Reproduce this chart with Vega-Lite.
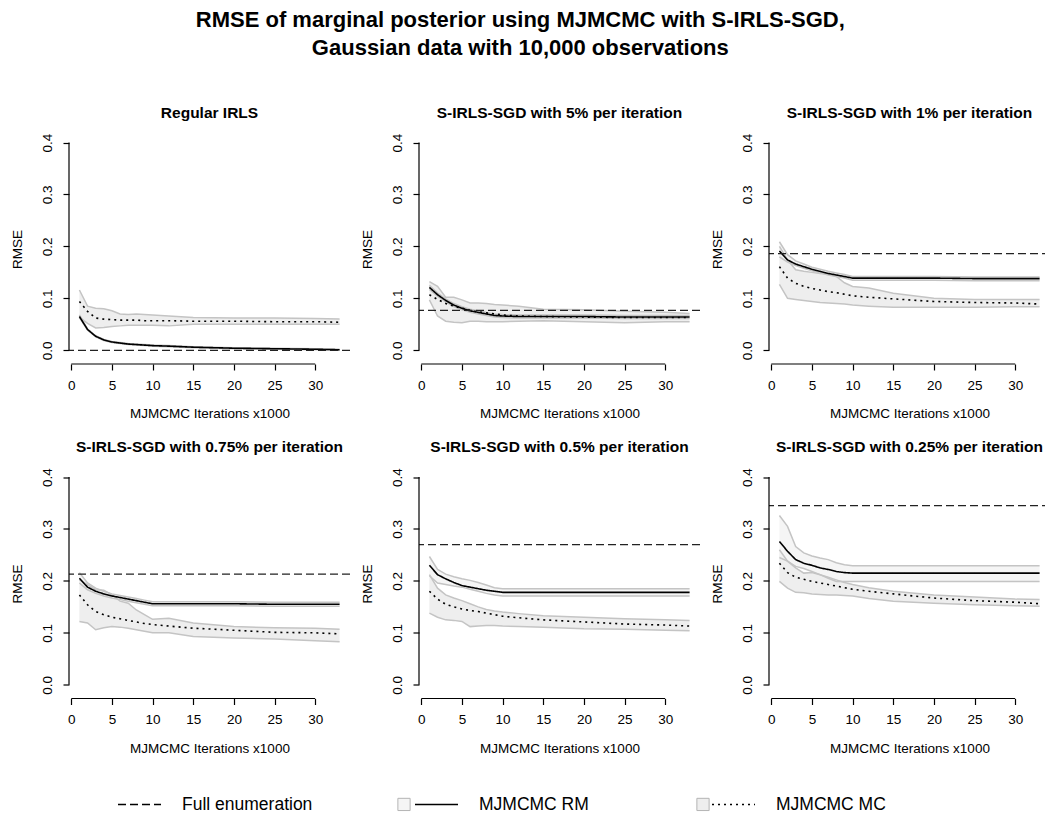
{
"$schema": "https://vega.github.io/schema/vega-lite/v6.json",
"background": "white",
"padding": {"left": 10, "top": 8, "right": 0, "bottom": 0},
"title": {"text": ["RMSE of marginal posterior using MJMCMC with S-IRLS-SGD,", "Gaussian data with 10,000 observations"], "fontSize": 22, "lineHeight": 28, "offset": 46, "anchor": "middle", "dx": -10},
"datasets": {
"fe": [{"p":"p1","full":0.0},{"p":"p2","full":0.077},{"p":"p3","full":0.186},{"p":"p4","full":0.213},{"p":"p5","full":0.270},{"p":"p6","full":0.345}],
"d": [
{"p":"p1","x":1,"rm":0.065,"rl":0.063,"rh":0.068,"mc":0.094,"ml":0.064,"mh":0.116},
{"p":"p1","x":2,"rm":0.040,"rl":0.039,"rh":0.041,"mc":0.075,"ml":0.052,"mh":0.085},
{"p":"p1","x":3,"rm":0.027,"rl":0.026,"rh":0.028,"mc":0.062,"ml":0.043,"mh":0.081},
{"p":"p1","x":4,"rm":0.020,"rl":0.019,"rh":0.021,"mc":0.060,"ml":0.044,"mh":0.080},
{"p":"p1","x":5,"rm":0.016,"rl":0.015,"rh":0.017,"mc":0.059,"ml":0.046,"mh":0.076},
{"p":"p1","x":6,"rm":0.014,"rl":0.013,"rh":0.015,"mc":0.058,"ml":0.047,"mh":0.070},
{"p":"p1","x":7,"rm":0.012,"rl":0.011,"rh":0.013,"mc":0.058,"ml":0.048,"mh":0.069},
{"p":"p1","x":8,"rm":0.011,"rl":0.010,"rh":0.012,"mc":0.058,"ml":0.048,"mh":0.070},
{"p":"p1","x":9,"rm":0.010,"rl":0.009,"rh":0.011,"mc":0.057,"ml":0.048,"mh":0.069},
{"p":"p1","x":10,"rm":0.009,"rl":0.008,"rh":0.010,"mc":0.057,"ml":0.048,"mh":0.068},
{"p":"p1","x":12,"rm":0.008,"rl":0.007,"rh":0.009,"mc":0.057,"ml":0.047,"mh":0.066},
{"p":"p1","x":15,"rm":0.006,"rl":0.005,"rh":0.007,"mc":0.056,"ml":0.050,"mh":0.063},
{"p":"p1","x":20,"rm":0.004,"rl":0.003,"rh":0.005,"mc":0.056,"ml":0.050,"mh":0.062},
{"p":"p1","x":25,"rm":0.003,"rl":0.002,"rh":0.004,"mc":0.055,"ml":0.050,"mh":0.062},
{"p":"p1","x":30,"rm":0.002,"rl":0.001,"rh":0.003,"mc":0.055,"ml":0.050,"mh":0.061},
{"p":"p1","x":33,"rm":0.001,"rl":0.000,"rh":0.002,"mc":0.054,"ml":0.050,"mh":0.060},
{"p":"p2","x":1,"rm":0.121,"rl":0.117,"rh":0.125,"mc":0.107,"ml":0.097,"mh":0.132},
{"p":"p2","x":2,"rm":0.107,"rl":0.104,"rh":0.110,"mc":0.098,"ml":0.066,"mh":0.123},
{"p":"p2","x":3,"rm":0.096,"rl":0.093,"rh":0.099,"mc":0.090,"ml":0.056,"mh":0.102},
{"p":"p2","x":4,"rm":0.087,"rl":0.084,"rh":0.090,"mc":0.085,"ml":0.054,"mh":0.102},
{"p":"p2","x":5,"rm":0.081,"rl":0.078,"rh":0.084,"mc":0.081,"ml":0.053,"mh":0.097},
{"p":"p2","x":6,"rm":0.076,"rl":0.073,"rh":0.079,"mc":0.077,"ml":0.056,"mh":0.091},
{"p":"p2","x":7,"rm":0.073,"rl":0.070,"rh":0.076,"mc":0.074,"ml":0.056,"mh":0.091},
{"p":"p2","x":8,"rm":0.070,"rl":0.067,"rh":0.073,"mc":0.072,"ml":0.055,"mh":0.090},
{"p":"p2","x":9,"rm":0.067,"rl":0.064,"rh":0.070,"mc":0.070,"ml":0.055,"mh":0.088},
{"p":"p2","x":10,"rm":0.066,"rl":0.063,"rh":0.069,"mc":0.068,"ml":0.055,"mh":0.087},
{"p":"p2","x":12,"rm":0.065,"rl":0.062,"rh":0.068,"mc":0.066,"ml":0.056,"mh":0.085},
{"p":"p2","x":15,"rm":0.065,"rl":0.062,"rh":0.068,"mc":0.065,"ml":0.057,"mh":0.079},
{"p":"p2","x":20,"rm":0.065,"rl":0.062,"rh":0.068,"mc":0.064,"ml":0.055,"mh":0.078},
{"p":"p2","x":25,"rm":0.064,"rl":0.061,"rh":0.067,"mc":0.063,"ml":0.053,"mh":0.075},
{"p":"p2","x":30,"rm":0.064,"rl":0.061,"rh":0.067,"mc":0.063,"ml":0.055,"mh":0.073},
{"p":"p2","x":33,"rm":0.064,"rl":0.061,"rh":0.067,"mc":0.063,"ml":0.055,"mh":0.071},
{"p":"p3","x":1,"rm":0.191,"rl":0.180,"rh":0.209,"mc":0.161,"ml":0.127,"mh":0.200},
{"p":"p3","x":2,"rm":0.174,"rl":0.170,"rh":0.184,"mc":0.139,"ml":0.100,"mh":0.174},
{"p":"p3","x":3,"rm":0.166,"rl":0.163,"rh":0.172,"mc":0.129,"ml":0.098,"mh":0.155},
{"p":"p3","x":4,"rm":0.161,"rl":0.158,"rh":0.166,"mc":0.123,"ml":0.096,"mh":0.152},
{"p":"p3","x":5,"rm":0.156,"rl":0.153,"rh":0.160,"mc":0.119,"ml":0.094,"mh":0.150},
{"p":"p3","x":6,"rm":0.152,"rl":0.149,"rh":0.156,"mc":0.116,"ml":0.092,"mh":0.148},
{"p":"p3","x":7,"rm":0.148,"rl":0.145,"rh":0.152,"mc":0.113,"ml":0.091,"mh":0.147},
{"p":"p3","x":8,"rm":0.145,"rl":0.142,"rh":0.149,"mc":0.111,"ml":0.090,"mh":0.142},
{"p":"p3","x":9,"rm":0.142,"rl":0.139,"rh":0.146,"mc":0.108,"ml":0.089,"mh":0.130},
{"p":"p3","x":10,"rm":0.139,"rl":0.135,"rh":0.142,"mc":0.105,"ml":0.087,"mh":0.123},
{"p":"p3","x":12,"rm":0.139,"rl":0.135,"rh":0.142,"mc":0.102,"ml":0.085,"mh":0.120},
{"p":"p3","x":15,"rm":0.139,"rl":0.135,"rh":0.142,"mc":0.099,"ml":0.083,"mh":0.110},
{"p":"p3","x":20,"rm":0.139,"rl":0.135,"rh":0.142,"mc":0.094,"ml":0.083,"mh":0.100},
{"p":"p3","x":25,"rm":0.138,"rl":0.134,"rh":0.141,"mc":0.092,"ml":0.083,"mh":0.098},
{"p":"p3","x":30,"rm":0.138,"rl":0.134,"rh":0.141,"mc":0.091,"ml":0.084,"mh":0.098},
{"p":"p3","x":33,"rm":0.138,"rl":0.134,"rh":0.141,"mc":0.089,"ml":0.084,"mh":0.098},
{"p":"p4","x":1,"rm":0.205,"rl":0.196,"rh":0.216,"mc":0.173,"ml":0.122,"mh":0.202},
{"p":"p4","x":2,"rm":0.188,"rl":0.183,"rh":0.196,"mc":0.154,"ml":0.119,"mh":0.193},
{"p":"p4","x":3,"rm":0.180,"rl":0.176,"rh":0.186,"mc":0.141,"ml":0.106,"mh":0.183},
{"p":"p4","x":4,"rm":0.175,"rl":0.171,"rh":0.180,"mc":0.135,"ml":0.110,"mh":0.182},
{"p":"p4","x":5,"rm":0.171,"rl":0.167,"rh":0.175,"mc":0.130,"ml":0.112,"mh":0.173},
{"p":"p4","x":6,"rm":0.168,"rl":0.164,"rh":0.172,"mc":0.127,"ml":0.111,"mh":0.161},
{"p":"p4","x":7,"rm":0.165,"rl":0.161,"rh":0.169,"mc":0.124,"ml":0.109,"mh":0.157},
{"p":"p4","x":8,"rm":0.162,"rl":0.158,"rh":0.166,"mc":0.121,"ml":0.106,"mh":0.144},
{"p":"p4","x":9,"rm":0.159,"rl":0.155,"rh":0.163,"mc":0.118,"ml":0.103,"mh":0.135},
{"p":"p4","x":10,"rm":0.156,"rl":0.152,"rh":0.160,"mc":0.116,"ml":0.100,"mh":0.126},
{"p":"p4","x":12,"rm":0.156,"rl":0.152,"rh":0.160,"mc":0.113,"ml":0.100,"mh":0.128},
{"p":"p4","x":15,"rm":0.156,"rl":0.152,"rh":0.160,"mc":0.109,"ml":0.093,"mh":0.119},
{"p":"p4","x":20,"rm":0.156,"rl":0.152,"rh":0.160,"mc":0.105,"ml":0.090,"mh":0.112},
{"p":"p4","x":25,"rm":0.155,"rl":0.151,"rh":0.159,"mc":0.101,"ml":0.088,"mh":0.110},
{"p":"p4","x":30,"rm":0.155,"rl":0.151,"rh":0.159,"mc":0.100,"ml":0.085,"mh":0.109},
{"p":"p4","x":33,"rm":0.155,"rl":0.151,"rh":0.159,"mc":0.098,"ml":0.083,"mh":0.107},
{"p":"p5","x":1,"rm":0.230,"rl":0.210,"rh":0.247,"mc":0.180,"ml":0.138,"mh":0.212},
{"p":"p5","x":2,"rm":0.212,"rl":0.196,"rh":0.222,"mc":0.165,"ml":0.130,"mh":0.186},
{"p":"p5","x":3,"rm":0.204,"rl":0.193,"rh":0.213,"mc":0.155,"ml":0.125,"mh":0.173},
{"p":"p5","x":4,"rm":0.197,"rl":0.190,"rh":0.208,"mc":0.150,"ml":0.124,"mh":0.167},
{"p":"p5","x":5,"rm":0.191,"rl":0.188,"rh":0.204,"mc":0.146,"ml":0.122,"mh":0.162},
{"p":"p5","x":6,"rm":0.188,"rl":0.184,"rh":0.201,"mc":0.143,"ml":0.112,"mh":0.156},
{"p":"p5","x":7,"rm":0.185,"rl":0.180,"rh":0.197,"mc":0.141,"ml":0.113,"mh":0.150},
{"p":"p5","x":8,"rm":0.182,"rl":0.176,"rh":0.192,"mc":0.138,"ml":0.114,"mh":0.145},
{"p":"p5","x":9,"rm":0.180,"rl":0.173,"rh":0.187,"mc":0.135,"ml":0.114,"mh":0.142},
{"p":"p5","x":10,"rm":0.178,"rl":0.171,"rh":0.185,"mc":0.132,"ml":0.113,"mh":0.140},
{"p":"p5","x":12,"rm":0.178,"rl":0.171,"rh":0.185,"mc":0.129,"ml":0.112,"mh":0.137},
{"p":"p5","x":15,"rm":0.178,"rl":0.171,"rh":0.185,"mc":0.125,"ml":0.111,"mh":0.133},
{"p":"p5","x":20,"rm":0.178,"rl":0.171,"rh":0.185,"mc":0.121,"ml":0.108,"mh":0.130},
{"p":"p5","x":25,"rm":0.178,"rl":0.171,"rh":0.185,"mc":0.117,"ml":0.107,"mh":0.127},
{"p":"p5","x":30,"rm":0.178,"rl":0.171,"rh":0.185,"mc":0.115,"ml":0.105,"mh":0.125},
{"p":"p5","x":33,"rm":0.178,"rl":0.171,"rh":0.185,"mc":0.113,"ml":0.104,"mh":0.124},
{"p":"p6","x":1,"rm":0.276,"rl":0.245,"rh":0.326,"mc":0.234,"ml":0.199,"mh":0.260},
{"p":"p6","x":2,"rm":0.257,"rl":0.238,"rh":0.305,"mc":0.216,"ml":0.186,"mh":0.238},
{"p":"p6","x":3,"rm":0.241,"rl":0.228,"rh":0.266,"mc":0.207,"ml":0.178,"mh":0.225},
{"p":"p6","x":4,"rm":0.234,"rl":0.224,"rh":0.254,"mc":0.203,"ml":0.177,"mh":0.215},
{"p":"p6","x":5,"rm":0.230,"rl":0.218,"rh":0.248,"mc":0.199,"ml":0.175,"mh":0.216},
{"p":"p6","x":6,"rm":0.225,"rl":0.212,"rh":0.244,"mc":0.196,"ml":0.174,"mh":0.212},
{"p":"p6","x":7,"rm":0.222,"rl":0.205,"rh":0.241,"mc":0.193,"ml":0.173,"mh":0.207},
{"p":"p6","x":8,"rm":0.218,"rl":0.199,"rh":0.235,"mc":0.190,"ml":0.173,"mh":0.202},
{"p":"p6","x":9,"rm":0.216,"rl":0.199,"rh":0.231,"mc":0.187,"ml":0.172,"mh":0.197},
{"p":"p6","x":10,"rm":0.215,"rl":0.199,"rh":0.229,"mc":0.184,"ml":0.171,"mh":0.193},
{"p":"p6","x":12,"rm":0.215,"rl":0.199,"rh":0.229,"mc":0.180,"ml":0.166,"mh":0.187},
{"p":"p6","x":15,"rm":0.215,"rl":0.199,"rh":0.229,"mc":0.175,"ml":0.161,"mh":0.180},
{"p":"p6","x":20,"rm":0.215,"rl":0.199,"rh":0.229,"mc":0.167,"ml":0.157,"mh":0.173},
{"p":"p6","x":25,"rm":0.215,"rl":0.199,"rh":0.229,"mc":0.162,"ml":0.154,"mh":0.169},
{"p":"p6","x":30,"rm":0.215,"rl":0.199,"rh":0.229,"mc":0.159,"ml":0.152,"mh":0.165},
{"p":"p6","x":33,"rm":0.215,"rl":0.199,"rh":0.229,"mc":0.156,"ml":0.151,"mh":0.164}
]
},
"columns": 3,
"spacing": {"row": 104.5, "column": 69},
"bounds": "flush",
"resolve": {"scale": {"strokeDash": "shared", "fill": "shared"}, "legend": {"strokeDash": "shared", "fill": "shared"}},
"concat": [
{"width": 281, "height": 230, "title": {"text": "Regular IRLS"}, "layer": [
{"data": {"name": "d"}, "transform": [{"filter": "datum.p === 'p1'"}], "mark": {"type": "area"}, "encoding": {"x": {"field": "x", "type": "quantitative", "title": "MJMCMC Iterations x1000", "scale": {"domain": [-0.28, 34.28], "nice": false, "zero": false}, "axis": {"values": [0,5,10,15,20,25,30]}}, "y": {"field": "ml", "type": "quantitative", "title": "RMSE", "scale": {"domain": [-0.0264, 0.4164], "nice": false, "zero": false}, "axis": {"values": [0,0.1,0.2,0.3,0.4], "format": ".1f"}}, "y2": {"field": "mh"}, "fill": {"datum": "MJMCMC MC", "type": "nominal", "scale": {"domain": ["MJMCMC RM", "MJMCMC MC"], "range": ["#f2f2f2", "#e8e8e8"]}, "legend": {"title": null, "orient": "none", "legendX": 328, "legendY": 663, "symbolType": "square", "symbolSize": 150, "symbolStrokeColor": "#b4b4b4", "symbolStrokeWidth": 1, "symbolFillColor": "#e4e4e4", "labelExpr": "''", "labelFontSize": 1, "labelOffset": 0, "columnPadding": 281, "gridAlign": "all"}}}},
{"data": {"name": "d"}, "transform": [{"filter": "datum.p === 'p1'"}], "mark": {"type": "area"}, "encoding": {"x": {"field": "x", "type": "quantitative", "title": "MJMCMC Iterations x1000"}, "y": {"field": "rl", "type": "quantitative", "title": "RMSE"}, "y2": {"field": "rh"}, "fill": {"datum": "MJMCMC RM", "type": "nominal"}}},
{"data": {"name": "d"}, "transform": [{"filter": "datum.p === 'p1'"}, {"fold": ["ml", "mh", "rl", "rh"], "as": ["k", "v"]}], "mark": {"type": "line", "stroke": "#c4c4c4", "strokeWidth": 1.5}, "encoding": {"x": {"field": "x", "type": "quantitative", "title": "MJMCMC Iterations x1000"}, "y": {"field": "v", "type": "quantitative", "title": "RMSE"}, "detail": {"field": "k", "type": "nominal"}}},
{"data": {"name": "d"}, "transform": [{"filter": "datum.p === 'p1'"}], "mark": {"type": "line", "stroke": "#000", "strokeWidth": 1.6}, "encoding": {"x": {"field": "x", "type": "quantitative", "title": "MJMCMC Iterations x1000"}, "y": {"field": "rm", "type": "quantitative", "title": "RMSE"}, "strokeDash": {"datum": "MJMCMC RM", "type": "nominal", "scale": {"domain": ["Full enumeration", "MJMCMC RM", "MJMCMC MC"], "range": [[8,4],[1,0],[2,4]]}, "legend": {"title": null, "orient": "none", "legendX": 48, "legendY": 648}}}},
{"data": {"name": "d"}, "transform": [{"filter": "datum.p === 'p1'"}], "mark": {"type": "line", "stroke": "#000", "strokeWidth": 1.6}, "encoding": {"x": {"field": "x", "type": "quantitative", "title": "MJMCMC Iterations x1000"}, "y": {"field": "mc", "type": "quantitative", "title": "RMSE"}, "strokeDash": {"datum": "MJMCMC MC", "type": "nominal"}}},
{"data": {"name": "fe"}, "transform": [{"filter": "datum.p === 'p1'"}], "mark": {"type": "rule", "stroke": "#222", "strokeWidth": 1.3}, "encoding": {"y": {"field": "full", "type": "quantitative", "title": "RMSE"}, "strokeDash": {"datum": "Full enumeration", "type": "nominal"}}},
{"data": {"values": [{}]}, "mark": {"type": "rule", "stroke": "#000", "strokeWidth": 1.2}, "encoding": {"x": {"datum": -0.28, "type": "quantitative", "title": "MJMCMC Iterations x1000"}, "y": {"datum": 0, "type": "quantitative", "title": "RMSE"}, "y2": {"datum": 0.4}}},
{"data": {"values": [{}]}, "mark": {"type": "rule", "stroke": "#000", "strokeWidth": 1.2}, "encoding": {"x": {"datum": 0, "type": "quantitative", "title": "MJMCMC Iterations x1000"}, "x2": {"datum": 30}, "y": {"datum": -0.0264, "type": "quantitative", "title": "RMSE"}}}
]},
{"width": 281, "height": 230, "title": {"text": "S-IRLS-SGD with 5% per iteration"}, "layer": [
{"data": {"name": "d"}, "transform": [{"filter": "datum.p === 'p2'"}], "mark": {"type": "area"}, "encoding": {"x": {"field": "x", "type": "quantitative", "title": "MJMCMC Iterations x1000", "scale": {"domain": [-0.28, 34.28], "nice": false, "zero": false}, "axis": {"values": [0,5,10,15,20,25,30]}}, "y": {"field": "ml", "type": "quantitative", "title": "RMSE", "scale": {"domain": [-0.0264, 0.4164], "nice": false, "zero": false}, "axis": {"values": [0,0.1,0.2,0.3,0.4], "format": ".1f"}}, "y2": {"field": "mh"}, "fill": {"datum": "MJMCMC MC", "type": "nominal"}}},
{"data": {"name": "d"}, "transform": [{"filter": "datum.p === 'p2'"}], "mark": {"type": "area"}, "encoding": {"x": {"field": "x", "type": "quantitative", "title": "MJMCMC Iterations x1000"}, "y": {"field": "rl", "type": "quantitative", "title": "RMSE"}, "y2": {"field": "rh"}, "fill": {"datum": "MJMCMC RM", "type": "nominal"}}},
{"data": {"name": "d"}, "transform": [{"filter": "datum.p === 'p2'"}, {"fold": ["ml", "mh", "rl", "rh"], "as": ["k", "v"]}], "mark": {"type": "line", "stroke": "#c4c4c4", "strokeWidth": 1.5}, "encoding": {"x": {"field": "x", "type": "quantitative", "title": "MJMCMC Iterations x1000"}, "y": {"field": "v", "type": "quantitative", "title": "RMSE"}, "detail": {"field": "k", "type": "nominal"}}},
{"data": {"name": "d"}, "transform": [{"filter": "datum.p === 'p2'"}], "mark": {"type": "line", "stroke": "#000", "strokeWidth": 1.6}, "encoding": {"x": {"field": "x", "type": "quantitative", "title": "MJMCMC Iterations x1000"}, "y": {"field": "rm", "type": "quantitative", "title": "RMSE"}, "strokeDash": {"datum": "MJMCMC RM", "type": "nominal"}}},
{"data": {"name": "d"}, "transform": [{"filter": "datum.p === 'p2'"}], "mark": {"type": "line", "stroke": "#000", "strokeWidth": 1.6}, "encoding": {"x": {"field": "x", "type": "quantitative", "title": "MJMCMC Iterations x1000"}, "y": {"field": "mc", "type": "quantitative", "title": "RMSE"}, "strokeDash": {"datum": "MJMCMC MC", "type": "nominal"}}},
{"data": {"name": "fe"}, "transform": [{"filter": "datum.p === 'p2'"}], "mark": {"type": "rule", "stroke": "#222", "strokeWidth": 1.3}, "encoding": {"y": {"field": "full", "type": "quantitative", "title": "RMSE"}, "strokeDash": {"datum": "Full enumeration", "type": "nominal"}}},
{"data": {"values": [{}]}, "mark": {"type": "rule", "stroke": "#000", "strokeWidth": 1.2}, "encoding": {"x": {"datum": -0.28, "type": "quantitative", "title": "MJMCMC Iterations x1000"}, "y": {"datum": 0, "type": "quantitative", "title": "RMSE"}, "y2": {"datum": 0.4}}},
{"data": {"values": [{}]}, "mark": {"type": "rule", "stroke": "#000", "strokeWidth": 1.2}, "encoding": {"x": {"datum": 0, "type": "quantitative", "title": "MJMCMC Iterations x1000"}, "x2": {"datum": 30}, "y": {"datum": -0.0264, "type": "quantitative", "title": "RMSE"}}}
]},
{"width": 281, "height": 230, "title": {"text": "S-IRLS-SGD with 1% per iteration"}, "layer": [
{"data": {"name": "d"}, "transform": [{"filter": "datum.p === 'p3'"}], "mark": {"type": "area"}, "encoding": {"x": {"field": "x", "type": "quantitative", "title": "MJMCMC Iterations x1000", "scale": {"domain": [-0.28, 34.28], "nice": false, "zero": false}, "axis": {"values": [0,5,10,15,20,25,30]}}, "y": {"field": "ml", "type": "quantitative", "title": "RMSE", "scale": {"domain": [-0.0264, 0.4164], "nice": false, "zero": false}, "axis": {"values": [0,0.1,0.2,0.3,0.4], "format": ".1f"}}, "y2": {"field": "mh"}, "fill": {"datum": "MJMCMC MC", "type": "nominal"}}},
{"data": {"name": "d"}, "transform": [{"filter": "datum.p === 'p3'"}], "mark": {"type": "area"}, "encoding": {"x": {"field": "x", "type": "quantitative", "title": "MJMCMC Iterations x1000"}, "y": {"field": "rl", "type": "quantitative", "title": "RMSE"}, "y2": {"field": "rh"}, "fill": {"datum": "MJMCMC RM", "type": "nominal"}}},
{"data": {"name": "d"}, "transform": [{"filter": "datum.p === 'p3'"}, {"fold": ["ml", "mh", "rl", "rh"], "as": ["k", "v"]}], "mark": {"type": "line", "stroke": "#c4c4c4", "strokeWidth": 1.5}, "encoding": {"x": {"field": "x", "type": "quantitative", "title": "MJMCMC Iterations x1000"}, "y": {"field": "v", "type": "quantitative", "title": "RMSE"}, "detail": {"field": "k", "type": "nominal"}}},
{"data": {"name": "d"}, "transform": [{"filter": "datum.p === 'p3'"}], "mark": {"type": "line", "stroke": "#000", "strokeWidth": 1.6}, "encoding": {"x": {"field": "x", "type": "quantitative", "title": "MJMCMC Iterations x1000"}, "y": {"field": "rm", "type": "quantitative", "title": "RMSE"}, "strokeDash": {"datum": "MJMCMC RM", "type": "nominal"}}},
{"data": {"name": "d"}, "transform": [{"filter": "datum.p === 'p3'"}], "mark": {"type": "line", "stroke": "#000", "strokeWidth": 1.6}, "encoding": {"x": {"field": "x", "type": "quantitative", "title": "MJMCMC Iterations x1000"}, "y": {"field": "mc", "type": "quantitative", "title": "RMSE"}, "strokeDash": {"datum": "MJMCMC MC", "type": "nominal"}}},
{"data": {"name": "fe"}, "transform": [{"filter": "datum.p === 'p3'"}], "mark": {"type": "rule", "stroke": "#222", "strokeWidth": 1.3}, "encoding": {"y": {"field": "full", "type": "quantitative", "title": "RMSE"}, "strokeDash": {"datum": "Full enumeration", "type": "nominal"}}},
{"data": {"values": [{}]}, "mark": {"type": "rule", "stroke": "#000", "strokeWidth": 1.2}, "encoding": {"x": {"datum": -0.28, "type": "quantitative", "title": "MJMCMC Iterations x1000"}, "y": {"datum": 0, "type": "quantitative", "title": "RMSE"}, "y2": {"datum": 0.4}}},
{"data": {"values": [{}]}, "mark": {"type": "rule", "stroke": "#000", "strokeWidth": 1.2}, "encoding": {"x": {"datum": 0, "type": "quantitative", "title": "MJMCMC Iterations x1000"}, "x2": {"datum": 30}, "y": {"datum": -0.0264, "type": "quantitative", "title": "RMSE"}}}
]},
{"width": 281, "height": 230, "title": {"text": "S-IRLS-SGD with 0.75% per iteration"}, "layer": [
{"data": {"name": "d"}, "transform": [{"filter": "datum.p === 'p4'"}], "mark": {"type": "area"}, "encoding": {"x": {"field": "x", "type": "quantitative", "title": "MJMCMC Iterations x1000", "scale": {"domain": [-0.28, 34.28], "nice": false, "zero": false}, "axis": {"values": [0,5,10,15,20,25,30]}}, "y": {"field": "ml", "type": "quantitative", "title": "RMSE", "scale": {"domain": [-0.0264, 0.4164], "nice": false, "zero": false}, "axis": {"values": [0,0.1,0.2,0.3,0.4], "format": ".1f"}}, "y2": {"field": "mh"}, "fill": {"datum": "MJMCMC MC", "type": "nominal"}}},
{"data": {"name": "d"}, "transform": [{"filter": "datum.p === 'p4'"}], "mark": {"type": "area"}, "encoding": {"x": {"field": "x", "type": "quantitative", "title": "MJMCMC Iterations x1000"}, "y": {"field": "rl", "type": "quantitative", "title": "RMSE"}, "y2": {"field": "rh"}, "fill": {"datum": "MJMCMC RM", "type": "nominal"}}},
{"data": {"name": "d"}, "transform": [{"filter": "datum.p === 'p4'"}, {"fold": ["ml", "mh", "rl", "rh"], "as": ["k", "v"]}], "mark": {"type": "line", "stroke": "#c4c4c4", "strokeWidth": 1.5}, "encoding": {"x": {"field": "x", "type": "quantitative", "title": "MJMCMC Iterations x1000"}, "y": {"field": "v", "type": "quantitative", "title": "RMSE"}, "detail": {"field": "k", "type": "nominal"}}},
{"data": {"name": "d"}, "transform": [{"filter": "datum.p === 'p4'"}], "mark": {"type": "line", "stroke": "#000", "strokeWidth": 1.6}, "encoding": {"x": {"field": "x", "type": "quantitative", "title": "MJMCMC Iterations x1000"}, "y": {"field": "rm", "type": "quantitative", "title": "RMSE"}, "strokeDash": {"datum": "MJMCMC RM", "type": "nominal"}}},
{"data": {"name": "d"}, "transform": [{"filter": "datum.p === 'p4'"}], "mark": {"type": "line", "stroke": "#000", "strokeWidth": 1.6}, "encoding": {"x": {"field": "x", "type": "quantitative", "title": "MJMCMC Iterations x1000"}, "y": {"field": "mc", "type": "quantitative", "title": "RMSE"}, "strokeDash": {"datum": "MJMCMC MC", "type": "nominal"}}},
{"data": {"name": "fe"}, "transform": [{"filter": "datum.p === 'p4'"}], "mark": {"type": "rule", "stroke": "#222", "strokeWidth": 1.3}, "encoding": {"y": {"field": "full", "type": "quantitative", "title": "RMSE"}, "strokeDash": {"datum": "Full enumeration", "type": "nominal"}}},
{"data": {"values": [{}]}, "mark": {"type": "rule", "stroke": "#000", "strokeWidth": 1.2}, "encoding": {"x": {"datum": -0.28, "type": "quantitative", "title": "MJMCMC Iterations x1000"}, "y": {"datum": 0, "type": "quantitative", "title": "RMSE"}, "y2": {"datum": 0.4}}},
{"data": {"values": [{}]}, "mark": {"type": "rule", "stroke": "#000", "strokeWidth": 1.2}, "encoding": {"x": {"datum": 0, "type": "quantitative", "title": "MJMCMC Iterations x1000"}, "x2": {"datum": 30}, "y": {"datum": -0.0264, "type": "quantitative", "title": "RMSE"}}}
]},
{"width": 281, "height": 230, "title": {"text": "S-IRLS-SGD with 0.5% per iteration"}, "layer": [
{"data": {"name": "d"}, "transform": [{"filter": "datum.p === 'p5'"}], "mark": {"type": "area"}, "encoding": {"x": {"field": "x", "type": "quantitative", "title": "MJMCMC Iterations x1000", "scale": {"domain": [-0.28, 34.28], "nice": false, "zero": false}, "axis": {"values": [0,5,10,15,20,25,30]}}, "y": {"field": "ml", "type": "quantitative", "title": "RMSE", "scale": {"domain": [-0.0264, 0.4164], "nice": false, "zero": false}, "axis": {"values": [0,0.1,0.2,0.3,0.4], "format": ".1f"}}, "y2": {"field": "mh"}, "fill": {"datum": "MJMCMC MC", "type": "nominal"}}},
{"data": {"name": "d"}, "transform": [{"filter": "datum.p === 'p5'"}], "mark": {"type": "area"}, "encoding": {"x": {"field": "x", "type": "quantitative", "title": "MJMCMC Iterations x1000"}, "y": {"field": "rl", "type": "quantitative", "title": "RMSE"}, "y2": {"field": "rh"}, "fill": {"datum": "MJMCMC RM", "type": "nominal"}}},
{"data": {"name": "d"}, "transform": [{"filter": "datum.p === 'p5'"}, {"fold": ["ml", "mh", "rl", "rh"], "as": ["k", "v"]}], "mark": {"type": "line", "stroke": "#c4c4c4", "strokeWidth": 1.5}, "encoding": {"x": {"field": "x", "type": "quantitative", "title": "MJMCMC Iterations x1000"}, "y": {"field": "v", "type": "quantitative", "title": "RMSE"}, "detail": {"field": "k", "type": "nominal"}}},
{"data": {"name": "d"}, "transform": [{"filter": "datum.p === 'p5'"}], "mark": {"type": "line", "stroke": "#000", "strokeWidth": 1.6}, "encoding": {"x": {"field": "x", "type": "quantitative", "title": "MJMCMC Iterations x1000"}, "y": {"field": "rm", "type": "quantitative", "title": "RMSE"}, "strokeDash": {"datum": "MJMCMC RM", "type": "nominal"}}},
{"data": {"name": "d"}, "transform": [{"filter": "datum.p === 'p5'"}], "mark": {"type": "line", "stroke": "#000", "strokeWidth": 1.6}, "encoding": {"x": {"field": "x", "type": "quantitative", "title": "MJMCMC Iterations x1000"}, "y": {"field": "mc", "type": "quantitative", "title": "RMSE"}, "strokeDash": {"datum": "MJMCMC MC", "type": "nominal"}}},
{"data": {"name": "fe"}, "transform": [{"filter": "datum.p === 'p5'"}], "mark": {"type": "rule", "stroke": "#222", "strokeWidth": 1.3}, "encoding": {"y": {"field": "full", "type": "quantitative", "title": "RMSE"}, "strokeDash": {"datum": "Full enumeration", "type": "nominal"}}},
{"data": {"values": [{}]}, "mark": {"type": "rule", "stroke": "#000", "strokeWidth": 1.2}, "encoding": {"x": {"datum": -0.28, "type": "quantitative", "title": "MJMCMC Iterations x1000"}, "y": {"datum": 0, "type": "quantitative", "title": "RMSE"}, "y2": {"datum": 0.4}}},
{"data": {"values": [{}]}, "mark": {"type": "rule", "stroke": "#000", "strokeWidth": 1.2}, "encoding": {"x": {"datum": 0, "type": "quantitative", "title": "MJMCMC Iterations x1000"}, "x2": {"datum": 30}, "y": {"datum": -0.0264, "type": "quantitative", "title": "RMSE"}}}
]},
{"width": 281, "height": 230, "title": {"text": "S-IRLS-SGD with 0.25% per iteration"}, "layer": [
{"data": {"name": "d"}, "transform": [{"filter": "datum.p === 'p6'"}], "mark": {"type": "area"}, "encoding": {"x": {"field": "x", "type": "quantitative", "title": "MJMCMC Iterations x1000", "scale": {"domain": [-0.28, 34.28], "nice": false, "zero": false}, "axis": {"values": [0,5,10,15,20,25,30]}}, "y": {"field": "ml", "type": "quantitative", "title": "RMSE", "scale": {"domain": [-0.0264, 0.4164], "nice": false, "zero": false}, "axis": {"values": [0,0.1,0.2,0.3,0.4], "format": ".1f"}}, "y2": {"field": "mh"}, "fill": {"datum": "MJMCMC MC", "type": "nominal"}}},
{"data": {"name": "d"}, "transform": [{"filter": "datum.p === 'p6'"}], "mark": {"type": "area"}, "encoding": {"x": {"field": "x", "type": "quantitative", "title": "MJMCMC Iterations x1000"}, "y": {"field": "rl", "type": "quantitative", "title": "RMSE"}, "y2": {"field": "rh"}, "fill": {"datum": "MJMCMC RM", "type": "nominal"}}},
{"data": {"name": "d"}, "transform": [{"filter": "datum.p === 'p6'"}, {"fold": ["ml", "mh", "rl", "rh"], "as": ["k", "v"]}], "mark": {"type": "line", "stroke": "#c4c4c4", "strokeWidth": 1.5}, "encoding": {"x": {"field": "x", "type": "quantitative", "title": "MJMCMC Iterations x1000"}, "y": {"field": "v", "type": "quantitative", "title": "RMSE"}, "detail": {"field": "k", "type": "nominal"}}},
{"data": {"name": "d"}, "transform": [{"filter": "datum.p === 'p6'"}], "mark": {"type": "line", "stroke": "#000", "strokeWidth": 1.6}, "encoding": {"x": {"field": "x", "type": "quantitative", "title": "MJMCMC Iterations x1000"}, "y": {"field": "rm", "type": "quantitative", "title": "RMSE"}, "strokeDash": {"datum": "MJMCMC RM", "type": "nominal"}}},
{"data": {"name": "d"}, "transform": [{"filter": "datum.p === 'p6'"}], "mark": {"type": "line", "stroke": "#000", "strokeWidth": 1.6}, "encoding": {"x": {"field": "x", "type": "quantitative", "title": "MJMCMC Iterations x1000"}, "y": {"field": "mc", "type": "quantitative", "title": "RMSE"}, "strokeDash": {"datum": "MJMCMC MC", "type": "nominal"}}},
{"data": {"name": "fe"}, "transform": [{"filter": "datum.p === 'p6'"}], "mark": {"type": "rule", "stroke": "#222", "strokeWidth": 1.3}, "encoding": {"y": {"field": "full", "type": "quantitative", "title": "RMSE"}, "strokeDash": {"datum": "Full enumeration", "type": "nominal"}}},
{"data": {"values": [{}]}, "mark": {"type": "rule", "stroke": "#000", "strokeWidth": 1.2}, "encoding": {"x": {"datum": -0.28, "type": "quantitative", "title": "MJMCMC Iterations x1000"}, "y": {"datum": 0, "type": "quantitative", "title": "RMSE"}, "y2": {"datum": 0.4}}},
{"data": {"values": [{}]}, "mark": {"type": "rule", "stroke": "#000", "strokeWidth": 1.2}, "encoding": {"x": {"datum": 0, "type": "quantitative", "title": "MJMCMC Iterations x1000"}, "x2": {"datum": 30}, "y": {"datum": -0.0264, "type": "quantitative", "title": "RMSE"}}}
]}
],
"config": {
"font": "Liberation Sans",
"view": {"stroke": null},
"area": {"opacity": 1, "fillOpacity": 0.75},
"title": {"font": "Liberation Sans", "fontWeight": "bold", "fontSize": 15.5, "color": "#000", "offset": 12, "anchor": "middle"},
"axis": {"domain": false, "grid": false, "ticks": true, "tickSize": 6, "tickColor": "#000", "tickWidth": 1.2, "labelFont": "Liberation Sans", "labelFontSize": 13.5, "labelColor": "#000", "titleFont": "Liberation Sans", "titleFontSize": 13.5, "titleFontWeight": "normal", "titleColor": "#000"},
"axisX": {"labelPadding": 8, "titlePadding": 15, "labelAngle": 0},
"axisY": {"labelAngle": -90, "labelAlign": "center", "labelBaseline": "bottom", "labelPadding": 9, "titlePadding": 16},
"legend": {"direction": "horizontal", "labelFont": "Liberation Sans", "labelFontSize": 17.5, "labelColor": "#000", "symbolType": "stroke", "symbolSize": 1849, "symbolStrokeWidth": 1.5, "symbolStrokeColor": "#000", "labelOffset": 20, "columnPadding": 99, "gridAlign": "all", "labelLimit": 300}
}
}
